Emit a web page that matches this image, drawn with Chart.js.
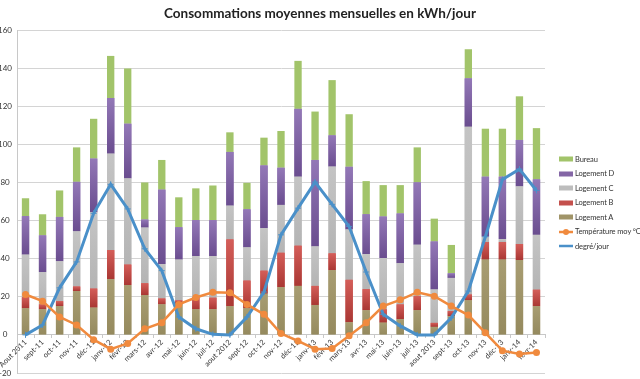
<!DOCTYPE html>
<html>
<head>
<meta charset="utf-8">
<script src="https://cdn.jsdelivr.net/npm/chart.js@4.4.0/dist/chart.umd.min.js"></script>
<style>
  html,body{margin:0;padding:0;background:#fff;}
  #wrap{position:relative;width:640px;height:379px;overflow:hidden;}
  #title{position:absolute;left:0;top:3px;width:640px;text-align:center;font:bold 13.5px Lato, "Open Sans", sans-serif;color:#222;line-height:20px;}
  #legend{position:absolute;left:559px;top:152px;font:7.5px Lato, "Open Sans", sans-serif;letter-spacing:-0.1px;color:#333;}
  #legend .it{height:14.5px;display:flex;align-items:center;white-space:nowrap;}
  #legend svg{margin-right:1px;flex:none;}
</style>
</head>
<body>
<div id="wrap">
  <canvas id="c" width="640" height="379"></canvas>
  <div id="title">Consommations moyennes mensuelles en kWh/jour</div>
  <div id="legend"></div>
</div>
<script>
const labels = ['Aout 2011','sept-11','oct-11','nov-11','déc-11','janv-12','févr-12','mars-12','avr-12','mai-12','juin-12','juil-12','aout 2012','sept-12','oct-12','nov-12','déc-12','janv-13','févr-13','mars-13','avr-13','mai-13','juin-13','juil-13','aout 2013','sept-13','oct-13','nov-13','déc-13','janv-14','févr-14'];
const logementA = [13.9,13.4,15.1,23,14.3,29.2,26.1,20.9,16,16.3,13.4,13.4,15,13.9,21.6,25,25.7,15.7,33.9,6.6,12.9,6.4,8.2,12.9,4.2,9.9,18.1,39.5,39.5,39.3,15];
const logementB = [5.9,2.6,2.6,2.4,10,15.3,10.8,6.2,3.1,1.8,6.4,6.1,35.1,14.6,12.1,18.1,21.1,10,8.9,22.3,11.1,7,7.8,7.4,2.1,2.6,3.1,9.2,9.2,8.4,8.7];
const logementC = [22.3,16.9,20.9,28.9,40,50.6,45.2,29.2,18.1,21.4,21.6,21.9,17.7,17.4,22.3,25.1,36.2,20.7,45.5,26.4,18.4,26.9,21.6,27,17.5,17.4,88,2.8,1.6,30.2,28.8];
const logementD = [20.2,19.3,23.3,26,28.2,29.2,28.7,4.2,39,17,18.8,18.8,28.2,20,32.9,19.5,35.6,45.4,16.4,32.9,20.9,21.8,26.1,32.7,25.2,2.4,25.4,31.5,32.7,24.4,29.1];
const bureau = [9.4,11.1,13.9,18.1,20.9,22.1,29,19.5,15.6,15.7,16.7,18.2,10.3,13.9,14.6,19.3,25.2,25.4,29,27.6,17.4,16.5,14.9,18.4,12,14.9,15.3,25.2,25.2,22.9,26.9];
const temperature = [21.2,17.7,9.4,5.2,-2.5,-7.5,-4.5,3.2,6.4,16,19.6,22.4,22.1,16,10.8,0.7,-3.2,-7.5,-7.1,-0.5,6.4,15.1,18.4,22.4,20.3,15.1,10.4,1.1,-8.3,-10,-9.2];
const degreJour = [0,5.2,24.7,38.3,63.8,79,66.1,45.2,33.7,9.4,3.2,0.3,0,9.4,22.5,52.5,66.5,80.2,68.5,56.9,33,10.8,4.7,0,0,9,23,51.5,81.5,87,75.8];
const yTicks = [-20,0,20,40,60,80,100,120,140,160];

const colA='#a09468', colB='#c4504c', colC='#bdbdbd', colD='#8466a6', colBur='#a2c46a', colT='#f08a3e', colDJ='#4a90c9';
// vertical shading (top colour, bottom colour) per bar dataset index
const shading = {0:['#a89d72','#958a5e'], 1:['#d45e59','#a93733'], 2:['#c4c4c4','#b4b4b4'], 3:['#9378b7','#6a4d8f']};

const barCommon = {type:'bar', barPercentage:0.43, categoryPercentage:1, borderWidth:0, order:2};
const datasets = [
  Object.assign({label:'Logement A', data:logementA, backgroundColor:colA}, barCommon),
  Object.assign({label:'Logement B', data:logementB, backgroundColor:colB}, barCommon),
  Object.assign({label:'Logement C', data:logementC, backgroundColor:colC}, barCommon),
  Object.assign({label:'Logement D', data:logementD, backgroundColor:colD}, barCommon),
  Object.assign({label:'Bureau', data:bureau, backgroundColor:colBur}, barCommon),
  {type:'line', label:'degré/jour', data:degreJour, stack:'dj', borderColor:colDJ, backgroundColor:colDJ, borderWidth:3, tension:0, pointStyle:'cross', pointRadius:3, pointBorderWidth:1, pointBorderColor:colDJ, order:1},
  {type:'line', label:'Température moy °C', data:temperature, stack:'temp', borderColor:colT, backgroundColor:colT, borderWidth:2.5, tension:0, pointStyle:'circle', pointRadius:3.5, pointBorderWidth:0, pointBackgroundColor:colT, order:0}
];

const shadePlugin = {
  id:'segShade',
  afterDatasetDraw(chart, args){
    const g = shading[args.index]; if(!g) return;
    const ctx = chart.ctx;
    args.meta.data.forEach(el=>{
      const p = el.getProps(['x','y','base','width'], true);
      const top = Math.min(p.y,p.base), bot = Math.max(p.y,p.base);
      if(bot-top < 0.5) return;
      const gr = ctx.createLinearGradient(0,top,0,bot);
      gr.addColorStop(0,g[0]); gr.addColorStop(1,g[1]);
      ctx.save(); ctx.fillStyle = gr; ctx.fillRect(p.x-p.width/2, top, p.width, bot-top); ctx.restore();
    });
  }
};

function zeroPad(s){ s.paddingTop = 0; s.paddingBottom = 0; s.paddingLeft = 0; s.paddingRight = 0; }

new Chart(document.getElementById('c'), {
  data:{labels:labels, datasets:datasets},
  plugins:[shadePlugin],
  options:{
    responsive:false, animation:false, devicePixelRatio:1,
    layout:{padding:{top:30,right:95,bottom:6,left:0}},
    plugins:{legend:{display:false}, title:{display:false}, tooltip:{enabled:false}},
    scales:{
      x:{
        stacked:true,
        position:{y:0},
        afterFit:zeroPad,
        grid:{display:true, drawOnChartArea:false, drawTicks:true, tickLength:3, color:'#c8c8c8', offset:true},
        border:{display:true, color:'#c8c8c8', width:1},
        ticks:{minRotation:45, maxRotation:45, autoSkip:false, padding:0, color:'#333', font:{family:'Lato', size:7.5}}
      },
      y:{
        stacked:true, min:-20, max:160,
        afterBuildTicks:(s)=>{ s.ticks = yTicks.map(v=>({value:v})); },
        afterFit:(s)=>{ s.width = 17; zeroPad(s); },
        grid:{color:'#d4d4d4', lineWidth:1, drawTicks:false},
        border:{display:true, color:'#c8c8c8'},
        ticks:{padding:5, crossAlign:'center', color:'#333', font:{family:'Lato', size:8}}
      }
    }
  }
});

// legend
const legendItems = [
  {label:'Bureau', kind:'bar', color:colBur},
  {label:'Logement D', kind:'bar', color:colD},
  {label:'Logement C', kind:'bar', color:colC},
  {label:'Logement B', kind:'bar', color:colB},
  {label:'Logement A', kind:'bar', color:colA},
  {label:'Température moy °C', kind:'dot', color:colT},
  {label:'degré/jour', kind:'cross', color:colDJ}
];
const lg = document.getElementById('legend');
legendItems.forEach(it=>{
  const d = document.createElement('div'); d.className='it';
  let svg;
  if(it.kind==='bar') svg = `<svg width="15" height="8"><rect x="0" y="1.5" width="14" height="5" fill="${it.color}"/></svg>`;
  else if(it.kind==='dot') svg = `<svg width="15" height="8"><line x1="0" y1="4" x2="14" y2="4" stroke="${it.color}" stroke-width="2.5"/><circle cx="7" cy="4" r="3" fill="${it.color}"/></svg>`;
  else svg = `<svg width="15" height="8"><line x1="0" y1="4" x2="14" y2="4" stroke="${it.color}" stroke-width="2.5"/></svg>`;
  d.innerHTML = svg + '<span>'+it.label+'</span>';
  lg.appendChild(d);
});
</script>
</body>
</html>
